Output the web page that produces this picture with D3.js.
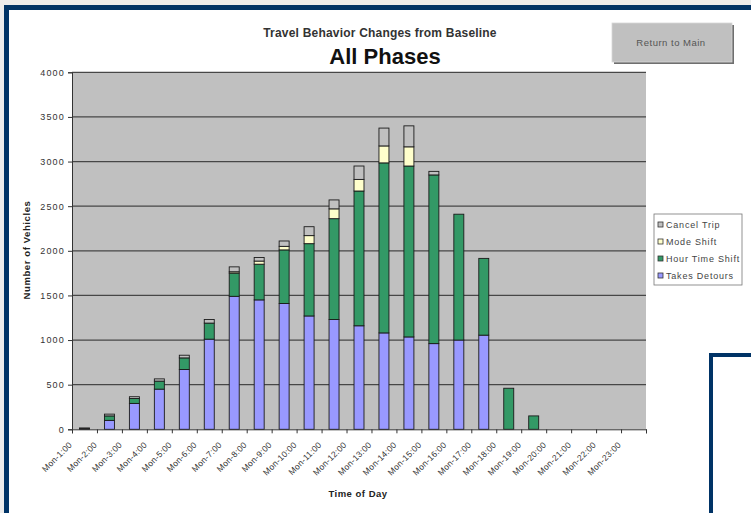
<!DOCTYPE html>
<html><head><meta charset="utf-8">
<script src="https://cdn.jsdelivr.net/npm/d3@7"></script>
<style>
html,body{margin:0;padding:0;background:#fff;}
svg{display:block;font-family:"Liberation Sans",Arial,sans-serif;}
</style></head>
<body>
<svg id="chart" width="751" height="513"></svg>
<script>
const categories = ["Mon-1:00","Mon-2:00","Mon-3:00","Mon-4:00","Mon-5:00","Mon-6:00","Mon-7:00","Mon-8:00","Mon-9:00","Mon-10:00","Mon-11:00","Mon-12:00","Mon-13:00","Mon-14:00","Mon-15:00","Mon-16:00","Mon-17:00","Mon-18:00","Mon-19:00","Mon-20:00","Mon-21:00","Mon-22:00","Mon-23:00"];
const takesDetours  = [5,100,290,450,670,1010,1490,1450,1410,1270,1230,1160,1080,1035,960,1000,1055,0,0,0,0,0,0];
const hourTimeShift = [5,50,55,90,130,180,260,400,600,810,1130,1510,1905,1915,1890,1410,860,460,150,0,0,0,0];
const modeShift     = [0,0,0,0,0,0,15,35,40,90,110,130,190,215,0,0,0,0,0,0,0,0,0];
const cancelTrip    = [5,20,20,25,30,40,55,40,60,100,100,150,200,235,40,0,0,0,0,0,0,0,0];
const seriesNames = ["Takes Detours","Hour Time Shift","Mode Shift","Cancel Trip"];
const yTicks = [0,500,1000,1500,2000,2500,3000,3500,4000];

const colors = {"Takes Detours":"#9999ff","Hour Time Shift":"#339966","Mode Shift":"#ffffcc","Cancel Trip":"#c0c0c0"};

const svg = d3.select("#chart");
const navy = "#003366";
const FF = "Liberation Sans, Arial, sans-serif";

// page frame
svg.append("rect").attr("x",0).attr("y",0).attr("width",751).attr("height",513).attr("fill","#ececec");
svg.append("rect").attr("x",4).attr("y",5).attr("width",747).attr("height",508).attr("fill",navy);
svg.append("rect").attr("x",9).attr("y",10).attr("width",742).attr("height",503).attr("fill","#fff");
// second frame lower right
svg.append("rect").attr("x",709).attr("y",353).attr("width",42).attr("height",160).attr("fill",navy);
svg.append("rect").attr("x",713).attr("y",357).attr("width",38).attr("height",156).attr("fill","#fff");

const plot = {l:72, r:646, t:72.3, b:429.3};

const x = d3.scaleBand().domain(categories).range([plot.l, plot.r]).paddingInner(0.6).paddingOuter(0.3);
const y = d3.scaleLinear().domain([0,4000]).range([plot.b, plot.t]);

// plot area
svg.append("rect").attr("x",plot.l).attr("y",plot.t).attr("width",plot.r-plot.l).attr("height",plot.b-plot.t).attr("fill","#c0c0c0");

// gridlines
svg.append("g").selectAll("line").data(yTicks.filter(d=>d>0)).join("line")
  .attr("x1",plot.l).attr("x2",plot.r).attr("y1",d=>y(d)).attr("y2",d=>y(d))
  .attr("stroke","#474747").attr("stroke-width",1.2);

// stacked bars
const rows = categories.map((c,i)=>({cat:c,"Takes Detours":takesDetours[i],"Hour Time Shift":hourTimeShift[i],"Mode Shift":modeShift[i],"Cancel Trip":cancelTrip[i]}));
const stacked = d3.stack().keys(seriesNames)(rows);
svg.append("g").selectAll("g").data(stacked).join("g")
  .attr("fill",d=>colors[d.key])
  .selectAll("rect").data(d=>d.filter(p=>p[1]-p[0]>0)).join("rect")
  .attr("x",d=>x(d.data.cat)).attr("width",x.bandwidth())
  .attr("y",d=>y(d[1])).attr("height",d=>y(d[0])-y(d[1]))
  .attr("stroke","#1a1a1a").attr("stroke-width",0.9);

// y axis
const yAxis = svg.append("g").attr("transform",`translate(${plot.l},0)`)
  .call(d3.axisLeft(y).tickValues(yTicks).tickSize(4).tickPadding(3).tickFormat(d3.format("d")));
yAxis.select(".domain").attr("stroke","#333");
yAxis.selectAll(".tick line").attr("stroke","#333");
yAxis.selectAll("text").attr("font-size",9).attr("letter-spacing",1.2).attr("fill","#333").attr("font-family",FF);

// x axis boundary ticks
const idx = d3.scaleLinear().domain([0,categories.length]).range([plot.l, plot.r]);
const xTickAxis = svg.append("g").attr("transform",`translate(0,${plot.b})`)
  .call(d3.axisBottom(idx).tickValues(d3.range(0,categories.length+1)).tickSize(4).tickFormat(""));
xTickAxis.select(".domain").attr("stroke","#333");
xTickAxis.selectAll(".tick line").attr("stroke","#333");

// x labels
const xAxis = svg.append("g").attr("transform",`translate(0,${plot.b})`)
  .call(d3.axisBottom(x).tickSize(0).tickPadding(0));
xAxis.select(".domain").remove();
xAxis.selectAll("text")
  .attr("font-size",8.5).attr("letter-spacing",0.3).attr("fill","#333").attr("text-anchor","end")
  .attr("font-family",FF)
  .attr("transform","translate(-14,14) rotate(-45)").attr("dy","0.35em").attr("y",0);

// titles
svg.append("text").attr("x",380).attr("y",37).attr("text-anchor","middle")
  .attr("font-size",12).attr("font-weight","bold").attr("letter-spacing",0.2).attr("fill","#333").text("Travel Behavior Changes from Baseline");
svg.append("text").attr("x",385).attr("y",64).attr("text-anchor","middle")
  .attr("font-size",22).attr("font-weight","bold").attr("fill","#111").text("All Phases");

svg.append("text").attr("transform","translate(30,250) rotate(-90)").attr("text-anchor","middle")
  .attr("font-size",9.5).attr("font-weight","bold").attr("letter-spacing",0.6).attr("fill","#222").text("Number of Vehicles");
svg.append("text").attr("x",358).attr("y",497).attr("text-anchor","middle")
  .attr("font-size",9.5).attr("font-weight","bold").attr("letter-spacing",0.5).attr("fill","#222").text("Time of Day");

// button
const btn = svg.append("g");
btn.append("rect").attr("x",614).attr("y",25).attr("width",120).attr("height",39).attr("fill","#6f6f6f");
btn.append("rect").attr("x",612).attr("y",23).attr("width",120).attr("height",39).attr("fill","#c0c0c0").attr("stroke","#d8d8d8").attr("stroke-width",0.8);
btn.append("text").attr("x",671).attr("y",46).attr("text-anchor","middle").attr("font-size",9.5).attr("letter-spacing",0.5).attr("fill","#555").text("Return to Main");

// legend
const lg = svg.append("g").attr("transform","translate(654,214)");
lg.append("rect").attr("width",88).attr("height",71).attr("fill","#fff").attr("stroke","#777").attr("stroke-width",0.8);
const legendOrder = seriesNames.slice().reverse();
const li = lg.selectAll("g").data(legendOrder).join("g").attr("transform",(d,i)=>`translate(4,${11+i*17})`);
li.append("rect").attr("x",0).attr("y",-3).attr("width",5).attr("height",5).attr("fill",d=>colors[d]).attr("stroke","#333").attr("stroke-width",0.8);
li.append("text").attr("x",8).attr("y",0).attr("dy","0.35em").attr("font-size",9).attr("letter-spacing",0.8).attr("fill","#444").text(d=>d);
</script>
</body></html>
